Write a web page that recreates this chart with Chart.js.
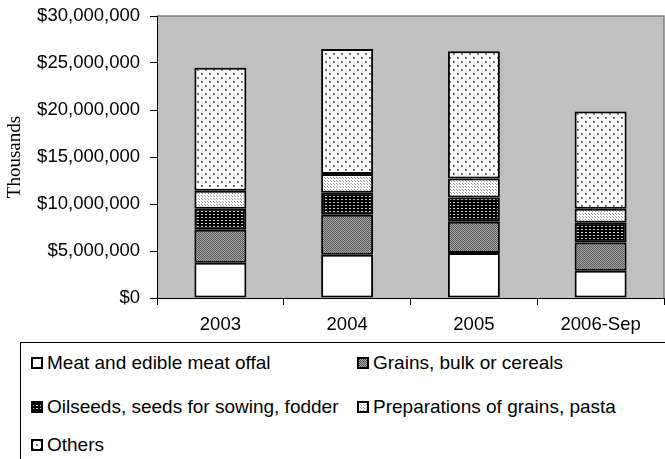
<!DOCTYPE html>
<html>
<head>
<meta charset="utf-8">
<script src="https://cdn.jsdelivr.net/npm/chart.js@4.4.0/dist/chart.umd.min.js"></script>
<style>
html, body { margin: 0; padding: 0; background: #fff; }
#wrap { position: relative; width: 665px; height: 459px; overflow: hidden; }
#chartCanvas { position: absolute; left: 0; top: 0; }
#legend {
    position: absolute; left: 20px; top: 342px; width: 660px; height: 140px;
    border: 1px solid #000; box-sizing: border-box;
    font-family: "Liberation Sans", Arial, sans-serif; font-size: 19px; color: #000;
}
.item { position: absolute; display: flex; align-items: center; white-space: nowrap; transform: translateY(-50%); }
.item canvas { margin-right: 4px; }
</style>
</head>
<body>
<div id="wrap">
    <canvas id="chartCanvas" width="665" height="340"></canvas>
    <div id="legend"></div>
</div>
<script>
const categories = ['2003', '2004', '2005', '2006-Sep'];

const seriesNames = [
    'Meat and edible meat offal',
    'Grains, bulk or cereals',
    'Oilseeds, seeds for sowing, fodder',
    'Preparations of grains, pasta',
    'Others'
];

const meatValues = [3750000, 4600000, 4800000, 2900000];
const grainsValues = [3500000, 4250000, 3300000, 3000000];
const oilseedsValues = [2250000, 2350000, 2600000, 2100000];
const preparationsValues = [1900000, 2000000, 2000000, 1500000];
const othersValues = [13100000, 13300000, 13550000, 10350000];

const yTicks = [0, 5000000, 10000000, 15000000, 20000000, 25000000, 30000000];

// pattern fills, one per series
function makePattern(ctx, kind) {
    const c = document.createElement('canvas');
    const p = c.getContext('2d');
    if (kind === 'white') {
        c.width = 2; c.height = 2;
        p.fillStyle = '#fff'; p.fillRect(0, 0, 2, 2);
    } else if (kind === 'grains') {
        c.width = 2; c.height = 2;
        p.fillStyle = '#aaa'; p.fillRect(0, 0, 2, 2);
        p.fillStyle = '#555'; p.fillRect(0, 0, 1, 1); p.fillRect(1, 1, 1, 1);
    } else if (kind === 'oilseeds') {
        c.width = 4; c.height = 3;
        p.fillStyle = '#000'; p.fillRect(0, 0, 4, 3);
        p.fillStyle = '#ccc'; p.fillRect(1, 1, 2, 1);
    } else if (kind === 'prep') {
        c.width = 3; c.height = 3;
        p.fillStyle = '#fff'; p.fillRect(0, 0, 3, 3);
        p.fillStyle = '#999'; p.fillRect(1, 1, 1, 1); p.fillRect(0, 0, 1, 1);
    } else {
        c.width = 8; c.height = 8;
        p.fillStyle = '#fff'; p.fillRect(0, 0, 8, 8);
        p.fillStyle = '#888'; p.fillRect(1, 1, 2, 2); p.fillRect(5, 5, 2, 2);
        p.fillStyle = '#333'; p.fillRect(1, 1, 1, 1); p.fillRect(5, 5, 1, 1);
    }
    return ctx.createPattern(c, 'repeat');
}

const patternKinds = ['white', 'grains', 'oilseeds', 'prep', 'others'];
const seriesValues = [meatValues, grainsValues, oilseedsValues, preparationsValues, othersValues];

const canvas = document.getElementById('chartCanvas');
const ctx = canvas.getContext('2d');

const datasets = seriesNames.map((name, i) => ({
    label: name,
    data: seriesValues[i],
    backgroundColor: makePattern(ctx, patternKinds[i]),
    borderColor: '#000',
    borderWidth: 2,
    borderSkipped: false,
    categoryPercentage: 1,
    barPercentage: 0.41,
}));

const plotBackground = {
    id: 'plotBackground',
    beforeDraw(chart) {
        const a = chart.chartArea;
        const g = chart.ctx;
        g.save();
        g.fillStyle = '#c0c0c0';
        g.fillRect(a.left, a.top, a.right - a.left, a.bottom - a.top);
        g.strokeStyle = '#808080';
        g.lineWidth = 1.5;
        g.beginPath();
        g.moveTo(a.left, a.top);
        g.lineTo(a.right, a.top);
        g.lineTo(a.right, a.bottom);
        g.stroke();
        g.restore();
    }
};

const tickFont = { family: '"Liberation Sans", Arial, sans-serif', size: 18.5 };

const chart = new Chart(ctx, {
    type: 'bar',
    data: { labels: categories, datasets: datasets },
    options: {
        responsive: false,
        animation: false,
        layout: { padding: { top: 16, right: 1, left: 0, bottom: 0 } },
        plugins: {
            legend: { display: false },
            tooltip: { enabled: false },
        },
        scales: {
            x: {
                stacked: true,
                grid: { drawOnChartArea: false, tickLength: 7, color: '#000', offset: true },
                border: { color: '#000', width: 1 },
                ticks: { color: '#000', font: tickFont, padding: 9, maxRotation: 0 },
                afterFit(scale) { scale.height = 42; },
            },
            y: {
                stacked: true,
                min: 0,
                max: 30000000,
                afterBuildTicks(scale) { scale.ticks = yTicks.map(v => ({ value: v })); },
                ticks: {
                    color: '#000',
                    font: tickFont,
                    padding: 10,
                    callback: (v) => '$' + Number(v).toLocaleString('en-US'),
                },
                grid: { drawOnChartArea: false, tickLength: 7, color: '#000' },
                border: { color: '#000', width: 1 },
                title: {
                    display: true,
                    text: 'Thousands',
                    color: '#000',
                    font: { family: '"Liberation Serif", "Times New Roman", serif', size: 19 },
                    padding: { top: 4, bottom: 0 },
                },
                afterFit(scale) {
                    scale.width = 157;
                    scale.paddingTop = 0;
                    scale.paddingBottom = 0;
                },
            },
        },
    },
    plugins: [plotBackground],
});

// legend in two columns, built from the chart's datasets
const legendDiv = document.getElementById('legend');
const colX = [10, 336];
const rowY = [20, 64, 102];
chart.data.datasets.forEach((ds, i) => {
    const item = document.createElement('div');
    item.className = 'item';
    item.style.left = colX[i % 2] + 'px';
    item.style.top = rowY[Math.floor(i / 2)] + 'px';
    const sw = document.createElement('canvas');
    sw.width = 12; sw.height = 12;
    const sctx = sw.getContext('2d');
    sctx.fillStyle = makePattern(sctx, patternKinds[i]);
    sctx.fillRect(0, 0, 12, 12);
    sctx.strokeStyle = '#000';
    sctx.lineWidth = 2;
    sctx.strokeRect(1, 1, 10, 10);
    const label = document.createElement('span');
    label.textContent = ds.label;
    item.appendChild(sw);
    item.appendChild(label);
    legendDiv.appendChild(item);
});
</script>
</body>
</html>
